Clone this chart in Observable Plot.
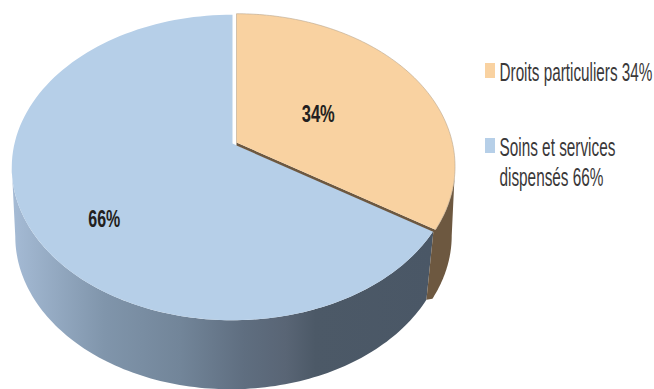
<!DOCTYPE html>
<html lang="fr">
<head>
<meta charset="utf-8">
<script src="https://cdn.jsdelivr.net/npm/d3@7"></script>
<script src="https://cdn.jsdelivr.net/npm/@observablehq/plot@0.6"></script>
<style>
  html, body { margin: 0; padding: 0; background: #fff; }
  svg { display: block; }
</style>
</head>
<body>
<div id="chart"></div>
<script>
// Répartition des plaintes
const categories = ["Droits particuliers", "Soins et services dispensés"];
const shares = [34, 66];
const legendLines = [["Droits particuliers 34%"], ["Soins et services", "dispensés 66%"]];
const legendWidths = [[153], [116, 104]];
const sliceColors = ["#f9d2a1", "#b6cfe8"];
const wallColors = ["#a5bbd5", "#8095ab", "#728599", "#5f6e80", "#596575", "#4c5967", "#4a5766"];
const wallStops = [0, 0.22, 0.4, 0.55, 0.65, 0.72, 1];

// Tilted disc: a circle seen in perspective, so the near rim sits farther from the hub.
const disc = {radiusX: 218, radiusY: 149, perspective: 0.157, depth: 69, wallScale: 0.975, peachScale: 0.99};
const hubs = {peach: [236, 142], blue: [232, 143], blueFoot: [230, 143]};

const turn = (share) => (share / 100) * 2 * Math.PI;
const project = ([hx, hy], angle, r = 1, scale = 1, drop = 0) => {
  const u = r * Math.sin(angle), v = r * Math.cos(angle);
  const w = 1 + disc.perspective * v;
  return {x: hx + (disc.radiusX * scale * u) / w, y: hy + drop - (disc.radiusY * v) / w};
};
const arc = (hub, from, to, scale = 1, drop = 0) =>
  d3.range(0, 121).map((i) => project(hub, from + ((to - from) * i) / 120, 1, scale, drop));

const split = turn(shares[0]);
const full = 2 * Math.PI;
// Angles at which the rim reaches its widest points, where the walls meet the silhouette
const rightExtreme = Math.acos(-disc.perspective);
const leftExtreme = full - rightExtreme;

const peachTop = [{x: hubs.peach[0], y: hubs.peach[1]}, ...arc(hubs.peach, 0, split, disc.peachScale)];
const blueTop = [{x: hubs.blue[0], y: hubs.blue[1]}, ...arc(hubs.blue, split, full)];
const peachWall = [
  ...arc(hubs.peach, rightExtreme, split, disc.peachScale),
  project(hubs.blue, split),
  project(hubs.blueFoot, split, 1, disc.wallScale, disc.depth),
  ...arc(hubs.peach, split, rightExtreme, disc.wallScale, disc.depth)
];
const blueWall = [
  ...arc(hubs.blue, split, leftExtreme),
  ...arc(hubs.blueFoot, leftExtreme, split, disc.wallScale, disc.depth)
];
const cutEnd = project(hubs.peach, split, 1, disc.peachScale);
const cutFace = [
  {x: hubs.peach[0], y: hubs.peach[1]},
  cutEnd,
  {x: cutEnd.x, y: cutEnd.y + 3},
  {x: hubs.peach[0], y: hubs.peach[1] + 3}
];

// Value labels placed on the top face of each slice
const valueLabels = [
  {text: `${shares[0]}%`, width: 33, ...project(hubs.peach, 1.115, 0.43)},
  {text: `${shares[1]}%`, width: 32, ...project(hubs.blue, 4.0, 0.72)}
];

// Legend rows
const legendTop = [63, 138];
const swatches = categories.map((c, i) => ({
  category: c, x1: 485, x2: 495, y1: legendTop[i], y2: legendTop[i] + 15, color: sliceColors[i]
}));
const legendText = legendLines.flatMap((lines, i) =>
  lines.map((text, j) => ({text, width: legendWidths[i][j], x: 499, y: legendTop[i] + 8.7 + j * 30}))
);

const wallGradient = () => {
  const defs = d3.create("svg:defs");
  const g = defs.append("linearGradient").attr("id", "blue-wall");
  wallStops.forEach((o, i) => g.append("stop").attr("offset", o).attr("stop-color", wallColors[i]));
  return defs.node();
};

const polygon = (points, fill, extra = {}) =>
  Plot.line(points, {x: "x", y: "y", fill, stroke: "none", ...extra});

const labelFont = "'Liberation Sans', sans-serif";
const measure = document.createElement("canvas").getContext("2d");

// The tall, condensed lettering comes from squeezing each line horizontally to its set width
const squeezeTo = (rows, font) => (index, scales, values, dimensions, context, next) => {
  const g = next(index, scales, values, dimensions, context);
  measure.font = font;
  d3.select(g).selectAll("text").attr("transform", function (_, i) {
    const row = rows[index[i]];
    const factor = row.width / measure.measureText(row.text).width;
    return `${this.getAttribute("transform") || ""} scale(${factor},1)`;
  });
  return g;
};

const chart = Plot.plot({
  width: 654,
  height: 389,
  margin: 0,
  x: {domain: [0, 654], range: [0, 654], axis: null},
  y: {domain: [0, 389], range: [0, 389], axis: null},
  marks: [
    wallGradient,
    polygon(blueWall, "url(#blue-wall)"),
    polygon(peachWall, "#6d5840"),
    polygon(blueTop, sliceColors[1]),
    polygon(cutFace, "#6d5840"),
    polygon(peachTop, sliceColors[0], {stroke: "#b9a68e", strokeWidth: 0.6}),
    Plot.text(valueLabels, {
      x: "x", y: "y", text: "text", fontSize: 23, fontWeight: "bold", fontFamily: labelFont, fill: "#231f20",
      render: squeezeTo(valueLabels, `bold 23px ${labelFont}`)
    }),
    Plot.rectY(swatches, {x1: "x1", x2: "x2", y1: "y1", y2: "y2", fill: "color"}),
    Plot.text(legendText, {
      x: "x", y: "y", text: "text", textAnchor: "start", fontSize: 26, fontFamily: labelFont, fill: "#3a3839",
      render: squeezeTo(legendText, `26px ${labelFont}`)
    })
  ]
});

document.getElementById("chart").append(chart);
</script>
</body>
</html>
